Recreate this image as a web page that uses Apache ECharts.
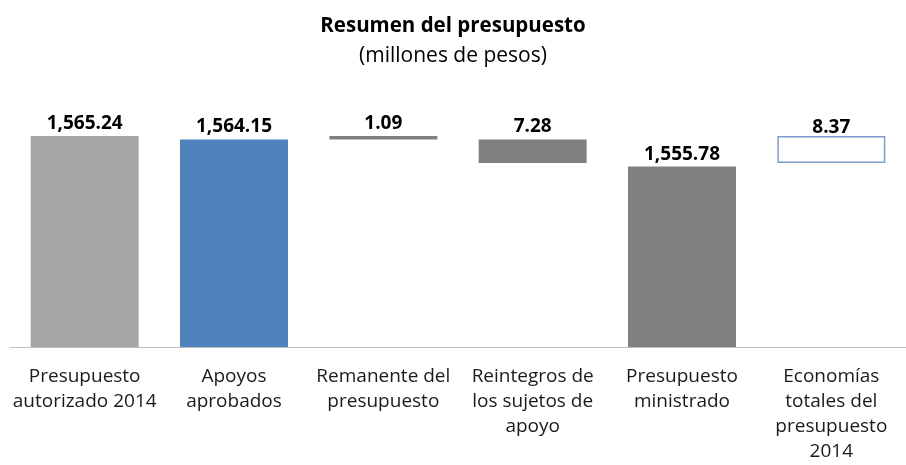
<!DOCTYPE html>
<html><head><meta charset="utf-8">
<script src="https://cdn.jsdelivr.net/npm/echarts@6/dist/echarts.min.js"></script>
<style>html,body{margin:0;padding:0;background:#fff}#c{width:906px;height:465px}</style>
</head><body><div id="c"></div>
<script>
const categories = ['Presupuesto\nautorizado 2014','Apoyos\naprobados','Remanente del\npresupuesto','Reintegros de\nlos sujetos de\napoyo','Presupuesto\nministrado','Economías\ntotales del\npresupuesto\n2014'];
const values = [1565.24, 1564.15, 1.09, 7.28, 1555.78, 8.37];
const bases = [0, 0, 1564.15, 1556.87, 0, 1556.87];
const colors = ['#A5A5A5','#4F81BD','#808080','#808080','#808080','#FFFFFF'];

const fmt = v => v.toLocaleString('en-US',{minimumFractionDigits:2,maximumFractionDigits:2});
const chart = echarts.init(document.getElementById('c'));
chart.setOption({
  animation:false,
  title:{text:'Resumen del presupuesto',subtext:'(millones de pesos)',left:'center',top:8,itemGap:4,
    textStyle:{fontFamily:'Open Sans',fontSize:20.5,fontWeight:'bold',color:'#000',lineHeight:26},
    subtextStyle:{fontFamily:'Open Sans',fontSize:21,color:'#000',lineHeight:26}},
  grid:{left:10,width:907,top:119,bottom:118},
  xAxis:{type:'category',data:categories,
    axisLine:{lineStyle:{color:'#BFBFBF',width:1}},
    axisTick:{length:7,lineStyle:{color:'#8C8C8C'}},
    axisLabel:{interval:0,margin:17,fontFamily:'Open Sans',fontSize:19,lineHeight:25,color:'#1A1A1A'}},
  yAxis:{type:'value',min:1500,max:1570.5,show:false,splitLine:{show:false}},
  series:[
    {type:'bar',stack:'w',barWidth:108,data:bases,itemStyle:{color:'transparent'},silent:true},
    {type:'bar',stack:'w',barWidth:108,
      data:values.map((v,i)=>({value:v,itemStyle:{color:colors[i],borderColor:i===5?'#7E9CC9':colors[i],borderWidth:i===5?1.5:0},
        label:{distance:i===5?-1:3}})),
      label:{show:true,position:'top',fontFamily:'Open Sans',fontSize:19,fontWeight:'bold',color:'#000',
        formatter:p=>fmt(values[p.dataIndex])}}
  ]
});
</script></body></html>
